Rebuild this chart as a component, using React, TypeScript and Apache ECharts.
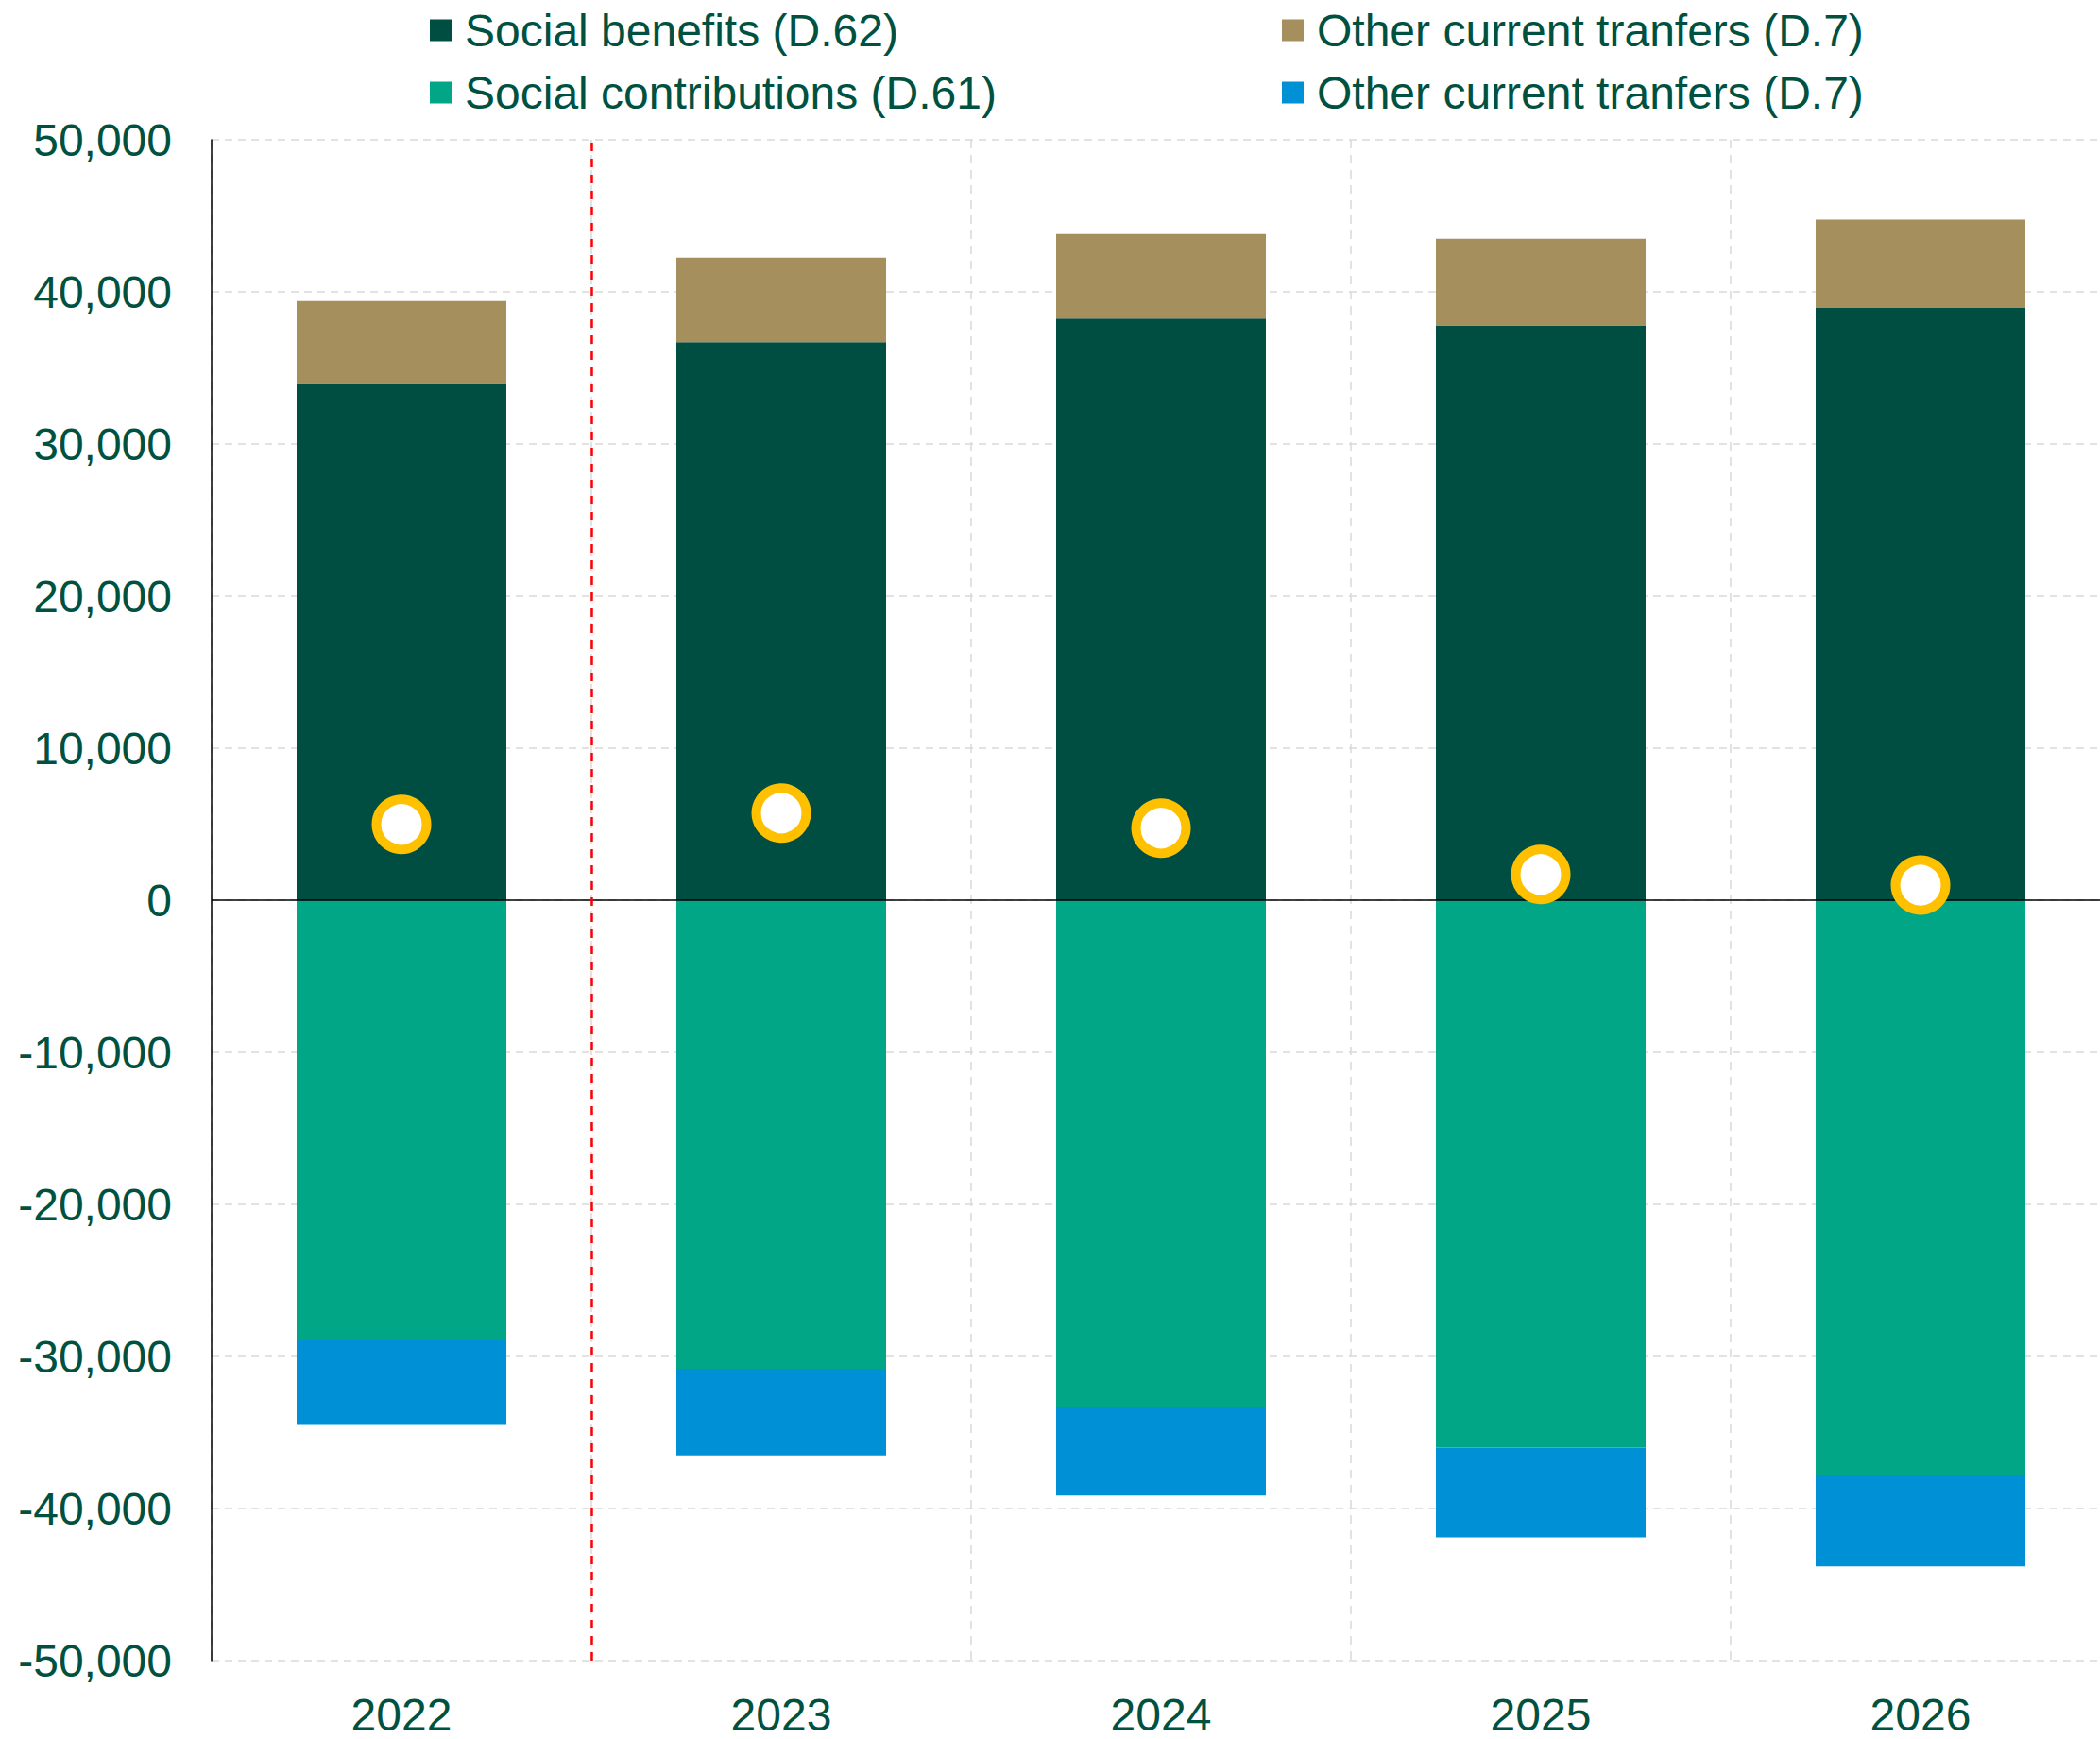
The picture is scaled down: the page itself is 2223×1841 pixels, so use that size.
import React, { useEffect, useRef } from "react";
import * as echarts from "echarts";

const years = ["2022", "2023", "2024", "2025", "2026"];
const legendLabels = [
  "Social benefits (D.62)",
  "Other current tranfers (D.7)",
  "Social contributions (D.61)",
  "Other current tranfers (D.7)",
];
const socialBenefits = [34000, 36700, 38250, 37800, 38950];
const otherTransfersIn = [5400, 5550, 5550, 5700, 5800];
const socialContributions = [-28950, -30800, -33350, -36000, -37800];
const otherTransfersOut = [-5550, -5700, -5800, -5900, -6000];
const balance = [4990, 5730, 4740, 1690, 990];
const forecastBoundary = 1; // boundary between 2022 (actual) and forecasts
const yTicks = { min: -50000, max: 50000, interval: 10000 };

const TEXT = "#00513F";
const FONT = "'Liberation Sans', Arial, sans-serif";
const colors = ["#004D42", "#A58F5D", "#00A685", "#0090D5"];

export default function App() {
  const ref = useRef<HTMLDivElement>(null);
  useEffect(() => {
    if (!ref.current) return;
    const chart = echarts.init(ref.current, undefined, { renderer: "svg" });
    const keys = ["s0", "s1", "s2", "s3"];
    const values = [socialBenefits, otherTransfersIn, socialContributions, otherTransfersOut];
    const legendCommon = {
      orient: "vertical" as const,
      top: 8,
      padding: 0,
      itemGap: 18,
      itemWidth: 23,
      itemHeight: 23,
      icon: "rect",
      selectedMode: false,
      formatter: (n: string) => legendLabels[keys.indexOf(n)],
      textStyle: { color: TEXT, fontSize: 48, fontFamily: FONT, lineHeight: 48, padding: [0, 0, 0, 9] },
    };
    chart.setOption({
      animation: false,
      backgroundColor: "#ffffff",
      textStyle: { fontFamily: FONT },
      legend: [
        { ...legendCommon, left: 455, data: ["s0", "s2"] },
        { ...legendCommon, left: 1357, data: ["s1", "s3"] },
      ],
      grid: { left: 224, top: 148, width: 2010, height: 1610, containLabel: false },
      xAxis: [
        {
          type: "category",
          data: years,
          position: "bottom",
          axisLine: { show: false, onZero: false },
          axisTick: { show: false },
          axisLabel: { color: TEXT, fontSize: 48, fontFamily: FONT, margin: 33 },
          splitLine: {
            show: true,
            lineStyle: { color: "#d9d9d9", width: 1.5, type: [9, 7] },
          },
        },
        { type: "value", min: 0, max: years.length, show: false },
      ],
      yAxis: {
        type: "value",
        min: yTicks.min,
        max: yTicks.max,
        interval: yTicks.interval,
        axisLine: { show: true, onZero: false, lineStyle: { color: "#000", width: 1.5 } },
        axisTick: { show: false },
        axisLabel: {
          color: TEXT,
          fontSize: 48,
          fontFamily: FONT,
          margin: 42,
          formatter: (v: number) => v.toLocaleString("en-US"),
        },
        splitLine: { show: true, lineStyle: { color: "#d9d9d9", width: 1.5, type: [8, 6] } },
      },
      series: [
        ...keys.map((k, i) => ({
          name: k,
          type: "bar",
          stack: "total",
          barWidth: 222,
          data: values[i],
          itemStyle: { color: colors[i] },
          z: 2,
          ...(i === 0
            ? {
                markLine: {
                  silent: true,
                  symbol: ["none", "none"],
                  label: { show: false },
                  lineStyle: { color: "#000", type: "solid", width: 1.5 },
                  data: [{ yAxis: 0 }],
                  z: 5,
                },
              }
            : {}),
        })),
        {
          name: "sep",
          type: "line",
          xAxisIndex: 1,
          data: [[forecastBoundary, 0]],
          symbol: "none",
          lineStyle: { opacity: 0 },
          silent: true,
          markLine: {
            silent: true,
            symbol: ["none", "none"],
            label: { show: false },
            lineStyle: { color: "#ff0000", type: [9, 8], width: 2.5, opacity: 1 },
            emphasis: { disabled: true },
            data: [{ xAxis: forecastBoundary }],
          },
          z: 4,
        },
        {
          name: "balance",
          type: "scatter",
          data: balance,
          symbol: "circle",
          symbolSize: 53,
          itemStyle: { color: "#ffffff", borderColor: "#FFC000", borderWidth: 10, opacity: 1 },
          z: 10,
        },
      ],
    });
    return () => chart.dispose();
  }, []);
  return (
    <div
      style={{ position: "absolute", left: 0, top: 0, width: 2223, height: 1841, overflow: "hidden" }}
    >
      <div ref={ref} style={{ width: 2240, height: 1841 }} />
    </div>
  );
}
